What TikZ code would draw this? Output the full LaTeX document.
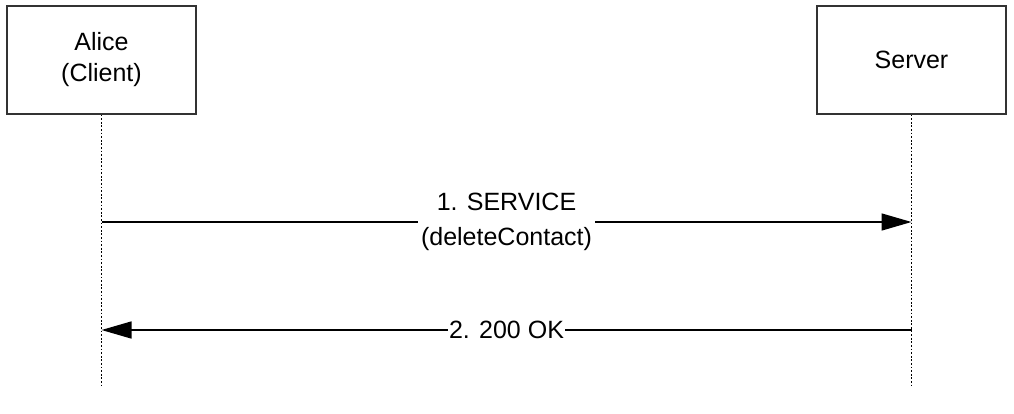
\documentclass[tikz,border=0pt]{standalone}
\usepackage{fontspec}
\setmainfont{Liberation Sans}
\usetikzlibrary{arrows.meta}
\begin{document}
\begin{tikzpicture}[x=1pt,y=-1pt,
  actor/.style={draw=black!80,line width=1.3pt,minimum width=189pt,minimum height=108pt,align=center,font=\fontsize{25}{31}\selectfont,inner sep=0pt},
  lifeline/.style={black,line width=1.8pt,dash pattern=on 1.8pt off 1.8pt},
  msg/.style={line width=1.5pt,-{Triangle[length=30pt,width=17pt]}},
  lbl/.style={fill=white,inner sep=3pt,align=center,font=\fontsize{25}{35}\selectfont}]
\useasboundingbox (0,0) rectangle (1014,413);
\node[actor] (alice) at (101.5,60) {Alice\\(Client)};
\node[actor] (server) at (911.5,60) {Server};
\coordinate (aend) at (101.5,388);
\coordinate (send) at (911.5,388);
\draw[lifeline] (alice.south) -- (aend);
\draw[lifeline] (server.south) -- (send);
\coordinate (a1) at (101.5,222);
\coordinate (s1) at (911.5,222);
\coordinate (a2) at (101.5,330);
\coordinate (s2) at (911.5,330);
\draw[msg] (a1) -- node[lbl] (m1) {1. SERVICE\\(deleteContact)} (s1);
\draw[msg] (s2) -- node[lbl,inner sep=1pt] (m2) {2. 200 OK} (a2);
\end{tikzpicture}
\end{document}
